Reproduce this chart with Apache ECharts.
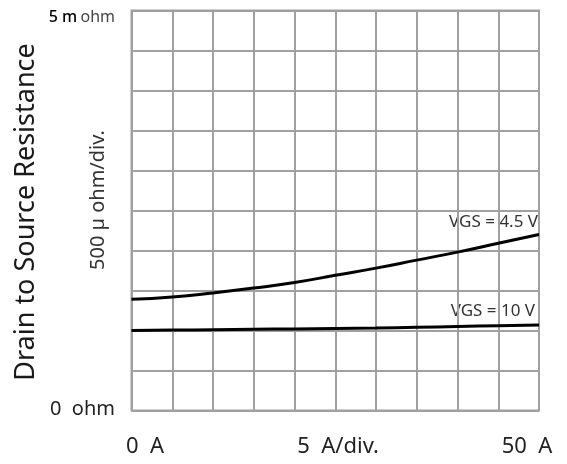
<!DOCTYPE html>
<html>
<head>
<meta charset="utf-8">
<script src="https://cdn.jsdelivr.net/npm/echarts@6/dist/echarts.min.js"></script>
<style>
html,body{margin:0;padding:0;background:#fff;}
#c{width:567px;height:464px;}
</style>
</head>
<body>
<div id="c"></div>
<script>
// Drain current (A)
var current = [0, 5, 10, 15, 20, 25, 30, 35, 40, 45, 50];
// Resistance in milliohm
var vgs45 = [1.39, 1.42, 1.47, 1.53, 1.60, 1.69, 1.78, 1.88, 1.98, 2.09, 2.20];
var vgs10 = [1.00, 1.005, 1.01, 1.015, 1.02, 1.025, 1.03, 1.04, 1.05, 1.06, 1.07];
var seriesNames = ['VGS = 4.5 V', 'VGS = 10 V'];
var yTitle = 'Drain to Source Resistance';
var yDivLabel = '500 \u00b5 ohm/div.';
var yTopValue = '5 m';
var yTopUnit = 'ohm';
var yBottomLabel = '0  ohm';
var xLabels = ['0  A', '5  A/div.', '50  A'];

var chart = echarts.init(document.getElementById('c'));
var font = 'Noto Sans';
function pairs(ys){ return current.map(function(x,i){ return [x, ys[i]]; }); }
var gridLine = {show:true, lineStyle:{color:'#a0a0a0', width:2}};
chart.setOption({
  animation:false,
  grid:{left:131.5, top:10.5, width:407.5, height:400, show:true, borderColor:'#a0a0a0', borderWidth:2},
  xAxis:{type:'value', min:0, max:50, interval:5, axisLabel:{show:false}, axisTick:{show:false}, axisLine:{show:false}, splitLine:gridLine},
  yAxis:{type:'value', min:0, max:5, interval:0.5, axisLabel:{show:false}, axisTick:{show:false}, axisLine:{show:false}, splitLine:gridLine},
  series:[
    {name:seriesNames[0], type:'line', smooth:true, symbol:'none', data:pairs(vgs45), lineStyle:{color:'#000', width:3}},
    {name:seriesNames[1], type:'line', smooth:true, symbol:'none', data:pairs(vgs10), lineStyle:{color:'#000', width:3}}
  ],
  graphic:[
    {type:'text', x:26, y:212, rotation:Math.PI/2, style:{text:yTitle, font:'27px "'+font+'"', fill:'#1a1a1a', align:'center', verticalAlign:'middle'}},
    {type:'text', x:98, y:200, rotation:Math.PI/2, style:{text:yDivLabel, font:'20px "'+font+'"', fill:'#333', align:'center', verticalAlign:'middle'}},
    {type:'text', x:115, y:17, style:{text:'{a|'+yTopValue+'} {b|'+yTopUnit+'}', align:'right', verticalAlign:'middle',
      rich:{a:{fontFamily:font, fontSize:16, fill:'#000', fontWeight:500}, b:{fontFamily:font, fontSize:16, fill:'#444'}}}},
    {type:'text', x:115, y:409, style:{text:yBottomLabel, font:'20px "'+font+'"', fill:'#222', align:'right', verticalAlign:'middle'}},
    {type:'text', x:145, y:447, style:{text:xLabels[0], font:'22px "'+font+'"', fill:'#222', align:'center', verticalAlign:'middle'}},
    {type:'text', x:338, y:447, style:{text:xLabels[1], font:'22px "'+font+'"', fill:'#222', align:'center', verticalAlign:'middle'}},
    {type:'text', x:527, y:447, style:{text:xLabels[2], font:'22px "'+font+'"', fill:'#222', align:'center', verticalAlign:'middle'}},
    {type:'text', x:538, y:222, style:{text:seriesNames[0], font:'17px "'+font+'"', fill:'#333', align:'right', verticalAlign:'middle'}},
    {type:'text', x:535, y:311, style:{text:seriesNames[1], font:'17px "'+font+'"', fill:'#333', align:'right', verticalAlign:'middle'}}
  ]
});
</script>
</body>
</html>
